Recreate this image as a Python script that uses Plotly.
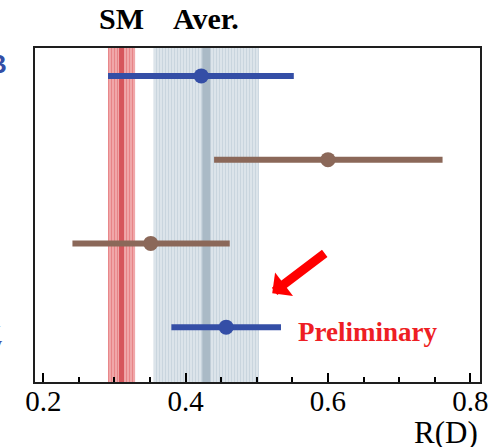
import plotly.graph_objects as go

# ---- data ----
rows_blue = [4, 1]
val_blue = [0.422, 0.457]
err_blue_minus = [0.131, 0.077]
err_blue_plus = [0.130, 0.077]

rows_brown = [3, 2]
val_brown = [0.600, 0.351]
err_brown_minus = [0.160, 0.110]
err_brown_plus = [0.161, 0.111]

sm_value = 0.310
sm_err = 0.019
ave_value = 0.429
ave_err = 0.074

x_ticks = [0.2, 0.4, 0.6, 0.8]
x_ticklabels = ["0.2", "0.4", "0.6", "0.8"]

BLUE = "rgb(52,78,166)"
BROWN = "rgb(139,104,89)"
SERIF = "Liberation Serif"

Y_LO, Y_HI = 0.345, 4.333
fig = go.Figure()

def band(center, err, fg, bg):
    x0, x1 = center - err, center + err
    fig.add_trace(go.Scatter(
        x=[x0, x1, x1, x0, x0], y=[Y_LO - 1, Y_LO - 1, Y_HI + 1, Y_HI + 1, Y_LO - 1],
        mode="lines", line=dict(width=0), fill="toself", fillcolor=bg,
        fillpattern=dict(shape="|", fgcolor=fg, bgcolor=bg, size=3, solidity=0.5),
        hoverinfo="skip", showlegend=False))

band(sm_value, sm_err, "rgb(220,85,90)", "rgb(242,178,180)")
band(ave_value, ave_err, "rgb(176,193,205)", "rgb(226,233,238)")

fig.add_trace(go.Scatter(x=[sm_value, sm_value], y=[Y_LO - 1, Y_HI + 1], mode="lines",
                         line=dict(color="rgb(214,86,92)", width=5), hoverinfo="skip", showlegend=False))
fig.add_trace(go.Scatter(x=[ave_value, ave_value], y=[Y_LO - 1, Y_HI + 1], mode="lines",
                         line=dict(color="rgb(170,186,198)", width=8), hoverinfo="skip", showlegend=False))

fig.add_trace(go.Scatter(
    x=val_blue, y=rows_blue, mode="markers",
    marker=dict(color=BLUE, size=15),
    error_x=dict(type="data", symmetric=False, array=err_blue_plus, arrayminus=err_blue_minus,
                 color=BLUE, thickness=6, width=0),
    showlegend=False))
fig.add_trace(go.Scatter(
    x=val_brown, y=rows_brown, mode="markers",
    marker=dict(color=BROWN, size=15),
    error_x=dict(type="data", symmetric=False, array=err_brown_plus, arrayminus=err_brown_minus,
                 color=BROWN, thickness=6, width=0),
    showlegend=False))

fig.update_layout(
    width=500, height=447,
    margin=dict(l=35, r=18, t=48, b=65),
    plot_bgcolor="white", paper_bgcolor="white",
    showlegend=False,
    xaxis=dict(
        range=[0.1884, 0.8136], tickvals=x_ticks, ticktext=x_ticklabels,
        ticks="inside", ticklen=9, tickwidth=2, tickcolor="black",
        minor=dict(dtick=0.05, ticks="inside", ticklen=5, tickwidth=2, tickcolor="black"),
        showline=True, linecolor="rgb(30,30,30)", linewidth=2, mirror=True,
        showgrid=False, zeroline=False,
        ticklabelstandoff=-8,
        tickfont=dict(family=SERIF, size=29, color="black"),
    ),
    yaxis=dict(
        range=[Y_LO, Y_HI], showticklabels=False, ticks="",
        showline=True, linecolor="rgb(30,30,30)", linewidth=2, mirror=True,
        showgrid=False, zeroline=False,
    ),
)

ann = []
ann.append(dict(text="<b>SM</b>", x=sm_value, xref="x", y=1.087, yref="paper",
                xanchor="center", yanchor="middle", showarrow=False,
                font=dict(family=SERIF, size=30, color="black")))
ann.append(dict(text="<b>Aver.</b>", x=ave_value, xref="x", y=1.087, yref="paper",
                xanchor="center", yanchor="middle", showarrow=False,
                font=dict(family=SERIF, size=30, color="black")))
ann.append(dict(text="R(D)", x=1.0, xref="paper", y=-0.152, yref="paper",
                xanchor="right", yanchor="middle", showarrow=False,
                font=dict(family=SERIF, size=31, color="black")))
ann.append(dict(text="<b>Preliminary</b>", x=0.555, xref="x", y=0.94, yref="y",
                xanchor="left", yanchor="middle", showarrow=False,
                font=dict(family=SERIF, size=27, color="rgb(238,30,36)")))
ann.append(dict(text="", x=0.5217, xref="x", y=1.405, yref="y",
                ax=54, ay=-41, axref="pixel", ayref="pixel",
                showarrow=True, arrowhead=1, arrowsize=0.55, arrowwidth=9,
                arrowcolor="rgb(255,0,0)"))
# partially cut-off labels at the left edge
ann.append(dict(text="<b>B</b>", x=-0.058, xref="paper", y=4.14, yref="y",
                xanchor="right", yanchor="middle", showarrow=False,
                font=dict(family="Liberation Sans", size=26, color=BLUE)))
ann.append(dict(text="l", x=-0.072, xref="paper", y=1.1, yref="y",
                xanchor="right", yanchor="middle", showarrow=False,
                font=dict(family=SERIF, size=24, color=BLUE)))
ann.append(dict(text="v", x=-0.07, xref="paper", y=0.8, yref="y",
                xanchor="right", yanchor="middle", showarrow=False,
                font=dict(family=SERIF, size=20, color=BLUE)))
fig.update_layout(annotations=ann)

fig.write_html("out.html")
